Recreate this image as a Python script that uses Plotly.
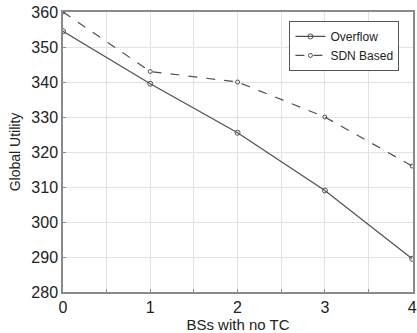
import plotly.graph_objects as go

x_vals = [0, 1, 2, 3, 4]
overflow = [354.5, 339.5, 325.5, 309, 289.5]
sdn_based = [360, 343, 340, 330, 316]
y_ticks = [280, 290, 300, 310, 320, 330, 340, 350, 360]

fig = go.Figure()
fig.add_trace(go.Scatter(x=x_vals, y=overflow, name="Overflow", mode="lines+markers",
                         line=dict(color="#505050", width=1.2),
                         marker=dict(symbol="circle-open", size=5, color="#505050", line=dict(width=1))))
fig.add_trace(go.Scatter(x=x_vals, y=sdn_based, name="SDN Based", mode="lines+markers",
                         line=dict(color="#505050", width=1.2, dash="dash"),
                         marker=dict(symbol="circle-open", size=4, color="#505050", line=dict(width=1))))

axis_common = dict(showline=True, linecolor="#8a8a8a", linewidth=1.5, mirror=True,
                   showgrid=True, gridcolor="#e2e2e2", gridwidth=1, zeroline=False,
                   ticks="inside", ticklen=3, tickcolor="#8a8a8a",
                   ticklabeloverflow="allow",
                   tickfont=dict(family="Liberation Sans, Arial", size=16, color="#222"))

fig.update_layout(
    width=417, height=333,
    margin=dict(l=63, r=0, t=12, b=41),
    paper_bgcolor="white", plot_bgcolor="white",
    font=dict(family="Liberation Sans, Arial", color="#222"),
    xaxis=dict(range=[0, 4.01], tickvals=x_vals,
               minor=dict(dtick=0.5, showgrid=True, gridcolor="#e2e2e2", ticks="inside", ticklen=3, tickcolor="#8a8a8a"),
               title=dict(text="BSs with no TC", font=dict(size=15), standoff=0),
               **axis_common),
    yaxis=dict(range=[280, 360], tickvals=y_ticks,
               title=dict(text="Global Utility", font=dict(size=14), standoff=7),
               **axis_common),
    legend=dict(x=0.647, y=0.968, xanchor="left", yanchor="top",
                bgcolor="white", bordercolor="#555", borderwidth=1,
                font=dict(size=12), tracegroupgap=0, itemwidth=30),
    showlegend=True,
)
fig.write_html("out.html")
